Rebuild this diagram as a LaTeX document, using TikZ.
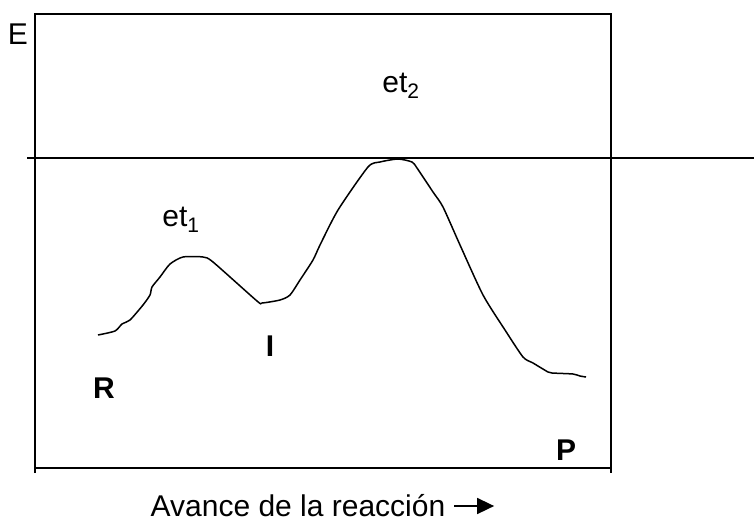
\documentclass[tikz,border=0pt]{standalone}
\usepackage{fontspec}
\setmainfont{Liberation Sans}
\usetikzlibrary{arrows.meta}

\begin{document}
\begin{tikzpicture}[x=1pt,y=-1pt,line width=1.6pt,
  lbl/.style={font=\fontsize{30}{34}\selectfont,inner sep=0pt},
  blbl/.style={lbl,font=\fontsize{30}{34}\selectfont\bfseries}]
  \useasboundingbox (0,0) rectangle (754,528);
  \draw (35,473) -- (35,14) -- (611,14) -- (611,473);
  \draw (35,468) -- (611,468);
  \draw (27,158) -- (754,158);
  \draw[line width=1.5pt] plot[smooth,tension=0.4] coordinates {
    (98,335) (115,331) (122,324) (130,320) (143,305) (150,295) (152,287)
    (160,277) (170,264) (183,257) (203,257) (213,262) (257,301) (262,303)
    (280,300) (290,295) (300,280) (313,260) (320,245) (338,210) (368,167)
    (380,162) (398,159) (412,162) (417,168) (433,192) (443,207) (460,245)
    (483,295) (505,330) (523,357) (533,363) (548,372) (552,373) (573,374)
    (580,376) (586,377)};
  \node[lbl] (e) at (18,34) {E};
  \node[lbl] (et2) at (401,86) {et\textsubscript{2}};
  \node[lbl] (et1) at (181,220) {et\textsubscript{1}};
  \node[blbl] (i) at (270,346) {I};
  \node[blbl] (r) at (104,388) {R};
  \node[blbl] (p) at (566,450) {P};
  \node[lbl] (avance) at (298,506) {Avance de la reacción};
  \draw[-{Triangle[length=17pt,width=16pt]}] ([xshift=8pt]avance.east) -- ++(40,0);
\end{tikzpicture}
\end{document}
